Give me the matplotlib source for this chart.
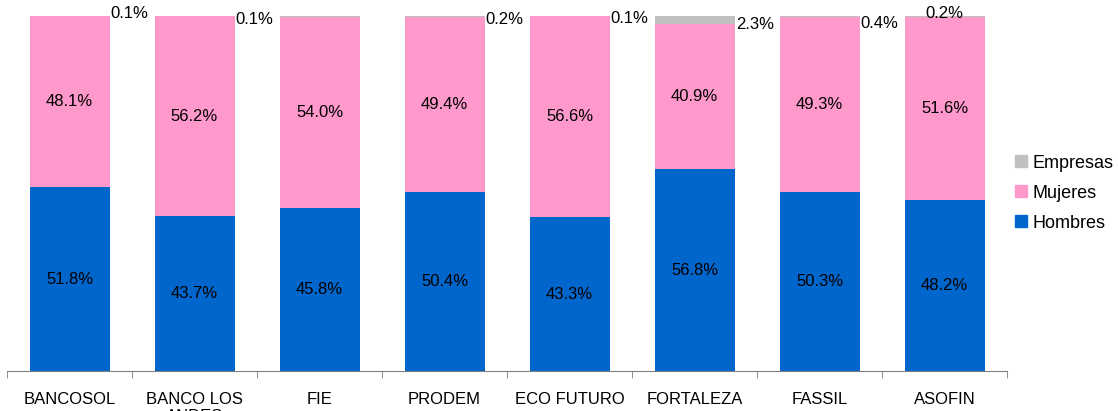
import numpy as np
import matplotlib
matplotlib.use('Agg')
import matplotlib.pyplot as plt
from matplotlib.ticker import FixedLocator
from matplotlib.patches import Patch

entidades = ['BANCOSOL', 'BANCO LOS\nANDES', 'FIE', 'PRODEM', 'ECO FUTURO',
             'FORTALEZA', 'FASSIL', 'ASOFIN']
hombres = [51.8, 43.7, 45.8, 50.4, 43.3, 56.8, 50.3, 48.2]
mujeres = [48.1, 56.2, 54.0, 49.4, 56.6, 40.9, 49.3, 51.6]
empresas = [0.1, 0.1, 0.2, 0.2, 0.1, 2.3, 0.4, 0.2]
# etiquetas de empresas que se ven en el grafico (FIE no tiene)
mostrar_empresas = [True, True, False, True, True, True, True, True]

c_hom = '#0066CC'
c_muj = '#FF99CC'
c_emp = '#C0C0C0'
fs = 12

plt.rcParams['font.family'] = ['Liberation Sans', 'DejaVu Sans']

fig = plt.figure(figsize=(11.18, 4.11), dpi=100)
ax = fig.add_axes([7 / 1118, 40 / 411, 1000 / 1118, 355 / 411])

x = np.arange(len(entidades))
w = 0.64
h = np.array(hombres) / 100
m = np.array(mujeres) / 100
e = np.array(empresas) / 100

ax.bar(x, h, w, color=c_hom)
ax.bar(x, m, w, bottom=h, color=c_muj)
ax.bar(x, e, w, bottom=h + m, color=c_emp)

for i in range(len(x)):
    ax.text(x[i], h[i] / 2, f'{hombres[i]:.1f}%', ha='center', va='center', fontsize=fs)
    ax.text(x[i], h[i] + m[i] / 2, f'{mujeres[i]:.1f}%', ha='center', va='center', fontsize=fs)

# posicion de las etiquetas de empresas (ajustadas a mano como en el original)
dx_emp = [0.33, 0.33, 0.0, 0.33, 0.33, 0.33, 0.33, 0.0]
dy_emp = [1.008, 0.989, 0.99, 0.989, 0.992, 0.977, 0.98, 1.006]
ha_emp = ['left', 'left', 'left', 'left', 'left', 'left', 'left', 'center']
for i in range(len(x)):
    if mostrar_empresas[i]:
        ax.text(x[i] + dx_emp[i], dy_emp[i], f'{empresas[i]:.1f}%', ha=ha_emp[i],
                va='center', fontsize=fs, clip_on=False)

ax.set_xlim(-0.5, len(x) - 0.5)
ax.set_ylim(0, 1.0)
ax.set_yticks([])
for s in ['top', 'right', 'left']:
    ax.spines[s].set_visible(False)
ax.spines['bottom'].set_color('#808080')
ax.set_xticks(x)
ax.set_xticklabels(entidades, fontsize=fs, va='top')
ax.tick_params(axis='x', which='major', length=0, pad=15)
ax.xaxis.set_minor_locator(FixedLocator(np.arange(-0.5, len(x), 1.0)))
ax.tick_params(axis='x', which='minor', length=5, color='#808080')

handles = [Patch(color=c_emp, label='Empresas'),
           Patch(color=c_muj, label='Mujeres'),
           Patch(color=c_hom, label='Hombres')]
fig.legend(handles=handles, loc='center left', bbox_to_anchor=(999 / 1118, 0.53),
           frameon=False, fontsize=13, handlelength=0.65, handleheight=0.65,
           handletextpad=0.3, labelspacing=0.72)

fig.savefig('out.png', dpi=100)
